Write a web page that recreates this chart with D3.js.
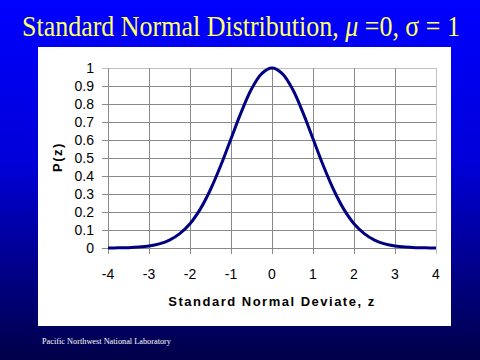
<!DOCTYPE html>
<html><head><meta charset="utf-8">
<script src="https://cdn.jsdelivr.net/npm/d3@7"></script>
<style>html,body{margin:0;padding:0;width:480px;height:360px;overflow:hidden}</style>
</head><body>
<script>
const zValues = [-4,-3.75,-3.5,-3.25,-3,-2.75,-2.5,-2.25,-2,-1.75,-1.5,-1.25,-1,-0.75,-0.5,-0.25,0,0.25,0.5,0.75,1,1.25,1.5,1.75,2,2.25,2.5,2.75,3,3.25,3.5,3.75,4];
const pValues = [0.0003,0.001,0.002,0.005,0.011,0.023,0.044,0.080,0.135,0.216,0.325,0.458,0.607,0.755,0.883,0.969,1,0.969,0.883,0.755,0.607,0.458,0.325,0.216,0.135,0.080,0.044,0.023,0.011,0.005,0.002,0.001,0.0003];
const xTicks = [-4,-3,-2,-1,0,1,2,3,4];
const yTicks = [0,0.1,0.2,0.3,0.4,0.5,0.6,0.7,0.8,0.9,1];
const titleText = "Standard Normal Distribution, ";
const xLabel = "Standard Normal Deviate, z";
const yLabel = "P(z)";
const footer = "Pacific Northwest National Laboratory";

const svg = d3.select("body").append("svg").attr("width",480).attr("height",360);
const defs = svg.append("defs");
const g = defs.append("linearGradient").attr("id","bg").attr("x1",0).attr("y1",0).attr("x2",0).attr("y2",1);
g.append("stop").attr("offset","0%").attr("stop-color","#0000ff");
g.append("stop").attr("offset","45%").attr("stop-color","#0000d8");
g.append("stop").attr("offset","100%").attr("stop-color","#000048");
svg.append("rect").attr("width",480).attr("height",360).attr("fill","url(#bg)");

// title
const t = svg.append("text").attr("x",22).attr("y",36)
  .attr("textLength",438).attr("lengthAdjust","spacingAndGlyphs")
  .attr("font-family","'Liberation Serif','Times New Roman',serif").attr("font-size",29).attr("fill","#ffff66");
t.append("tspan").text(titleText);
t.append("tspan").attr("font-style","italic").text("\u03bc");
t.append("tspan").text(" =0, \u03c3 = 1");

// white panel
svg.append("rect").attr("x",38).attr("y",47).attr("width",413).attr("height",279).attr("fill","#ffffff");

const x = d3.scaleLinear().domain([-4,4]).range([108,436]);
const y = d3.scaleLinear().domain([0,1]).range([248,68]);

const grid = svg.append("g");
grid.selectAll("line.h").data(yTicks).join("line")
  .attr("x1",102).attr("x2",436).attr("y1",d=>y(d)).attr("y2",d=>y(d))
  .attr("stroke",d=>d===1?"#c0c0c0":"#8a8a8a").attr("stroke-width",1).attr("shape-rendering","crispEdges");
grid.selectAll("line.v").data(xTicks).join("line")
  .attr("y1",68).attr("y2",254).attr("x1",d=>x(d)).attr("x2",d=>x(d))
  .attr("stroke",d=>d===4?"#c0c0c0":"#8a8a8a").attr("stroke-width",1).attr("shape-rendering","crispEdges");

// y labels
svg.append("g").selectAll("text").data(yTicks).join("text")
  .attr("x",94).attr("y",d=>y(d)+5).attr("text-anchor","end")
  .attr("font-family","'Liberation Sans',Arial,sans-serif").attr("font-size",14).attr("fill","#000")
  .text(d=>d3.format("")(d));
// x labels
svg.append("g").selectAll("text").data(xTicks).join("text")
  .attr("x",d=>x(d)).attr("y",279).attr("text-anchor","middle")
  .attr("font-family","'Liberation Sans',Arial,sans-serif").attr("font-size",14).attr("fill","#000")
  .text(d=>d);

svg.append("text").attr("x",272).attr("y",306).attr("text-anchor","middle")
  .attr("font-family","'Liberation Sans',Arial,sans-serif").attr("font-size",13).attr("font-weight","bold")
  .attr("letter-spacing",1.5).attr("fill","#000").text(xLabel);
svg.append("text").attr("transform","translate(62,157) rotate(-90)").attr("text-anchor","middle")
  .attr("font-family","'Liberation Sans',Arial,sans-serif").attr("font-size",13).attr("font-weight","bold")
  .attr("letter-spacing",1.5).attr("fill","#000").text(yLabel);

const line = d3.line().x((d,i)=>x(zValues[i])).y(d=>y(d)).curve(d3.curveCatmullRom);
svg.append("path").datum(pValues).attr("d",line).attr("fill","none").attr("stroke","#000080").attr("stroke-width",3);

svg.append("text").attr("x",42).attr("y",344)
  .attr("textLength",129).attr("lengthAdjust","spacingAndGlyphs")
  .attr("font-family","'Liberation Serif','Times New Roman',serif").attr("font-size",9).attr("fill","#ffffff")
  .text(footer);
</script>
</body></html>
